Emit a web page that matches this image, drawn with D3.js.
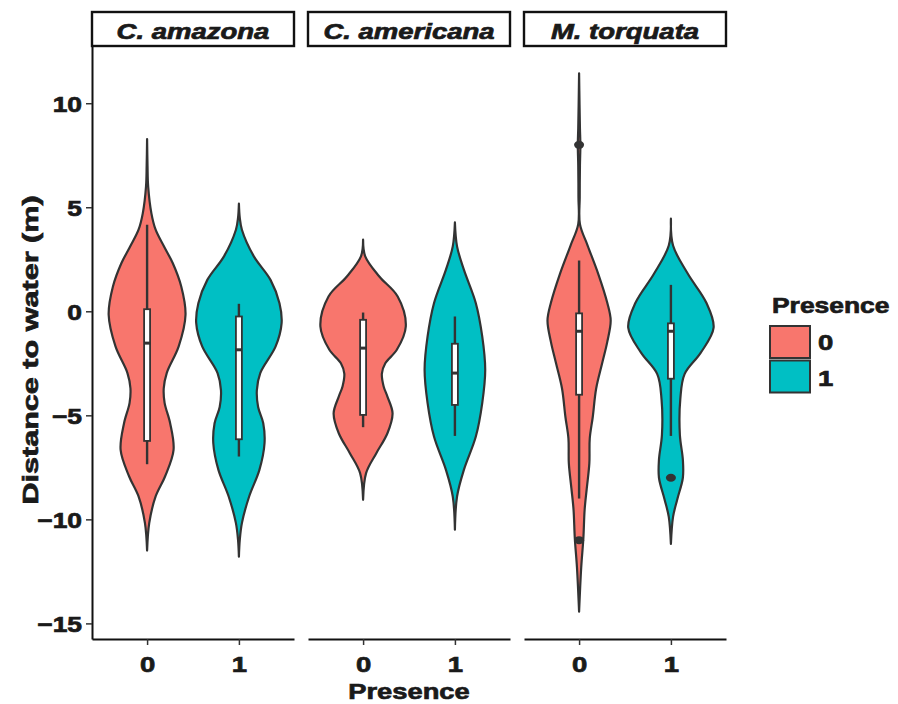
<!DOCTYPE html>
<html>
<head>
<meta charset="utf-8">
<script src="https://cdn.jsdelivr.net/npm/d3@7"></script>
<style>
  body { margin: 0; background: #fff; }
  text { font-family: "Liberation Sans", Arial, sans-serif; font-weight: bold; fill: #1a1a1a; stroke: #1a1a1a; stroke-width: 0.7px; }
</style>
</head>
<body>
<div id="chart"></div>
<script>
// facets and groups
var species = ["C. amazona", "C. americana", "M. torquata"];
var presence = ["0", "1"];

// violin outlines: [distance, relative density]
var amazona0 = [[8.28,0],[7.0,0.01],[6.0,0.025],[4.72,0.1],[3.92,0.2],[3.1,0.4],[2.32,0.6],[1.19,0.8],[-0.17,0.9],[-1.69,0.74],[-2.97,0.46],[-3.7,0.39],[-4.4,0.41],[-5.38,0.54],[-6.66,0.62],[-7.94,0.42],[-8.9,0.2],[-10.18,0.05],[-11.5,0]];
var amazona1 = [[5.17,0],[4.5,0.02],[3.92,0.07],[2.64,0.35],[1.51,0.74],[0.39,0.95],[-0.57,1.0],[-1.69,0.86],[-2.97,0.5],[-3.8,0.42],[-4.6,0.45],[-5.38,0.57],[-6.34,0.6],[-7.62,0.48],[-8.9,0.24],[-10.18,0.07],[-11.0,0.02],[-11.79,0]];
var americana0 = [[3.44,0],[2.64,0.05],[1.67,0.38],[0.71,0.81],[-0.73,1.0],[-1.85,0.79],[-2.5,0.52],[-3.0,0.44],[-3.6,0.48],[-4.1,0.57],[-4.9,0.69],[-5.86,0.57],[-6.82,0.31],[-7.78,0.07],[-9.06,0]];
var americana1 = [[4.27,0],[3.12,0.05],[2.0,0.21],[0.39,0.49],[-1.21,0.64],[-2.81,0.71],[-4.41,0.64],[-6.02,0.49],[-7.62,0.21],[-8.9,0.05],[-10.5,0]];
var torquata0 = [[11.44,0],[10,0.01],[8.8,0.02],[8,0.03],[7,0.02],[5.5,0.015],[4.19,0.02],[3.16,0.2],[1.79,0.45],[0.41,0.66],[-0.44,0.74],[-1.47,0.66],[-2.5,0.54],[-3.71,0.4],[-5.08,0.32],[-6.11,0.25],[-7.31,0.24],[-8.51,0.18],[-9.54,0.13],[-10.92,0.1],[-12.3,0.05],[-14.44,0]];
var torquata1 = [[4.45,0],[3.16,0.05],[1.79,0.4],[0.41,0.83],[-0.79,1.0],[-1.99,0.7],[-3.02,0.32],[-4.22,0.22],[-5.94,0.21],[-7.14,0.28],[-8.0,0.28],[-9.03,0.15],[-9.88,0.05],[-11.18,0]];

// boxplot stats: [lower whisker, q1, median, q3, upper whisker]
var amazonaBox = [[-7.35,-6.23,-1.53,0.1,4.16], [-6.98,-6.15,-1.85,-0.25,0.36]];
var americanaBox = [[-5.57,-4.98,-1.77,-0.41,-0.06], [-5.99,-4.5,-2.97,-1.56,-0.25]];
var torquataBox = [[-9.0,-4.01,-0.96,-0.1,2.44], [-5.99,-3.24,-0.96,-0.58,1.27]];

// outliers
var amazonaOut = [[], []];
var americanaOut = [[], []];
var torquataOut = [[8, -11], [-8]];

var violins = [[amazona0, amazona1], [americana0, americana1], [torquata0, torquata1]];
var boxes = [amazonaBox, americanaBox, torquataBox];
var outliers = [amazonaOut, americanaOut, torquataOut];

var colors = ["#F8766D", "#00BFC4"];
var ink = "#333333";

var width = 898, height = 704;
var panelTop = 46, panelBottom = 639, panelW = 202, panelGap = 14, left = 92;

var svg = d3.select("#chart").append("svg")
    .attr("width", width)
    .attr("height", height);

// stretch text horizontally, the figure's lettering is wide
function stretch(sel, k) {
  sel.each(function() {
    var l = this.getComputedTextLength();
    d3.select(this).attr("textLength", l * k).attr("lengthAdjust", "spacingAndGlyphs");
  });
}

var y = d3.scaleLinear()
    .domain([-15.75, 12.75])
    .range([panelBottom, panelTop]);

var yAxis = svg.append("g")
    .attr("transform", "translate(" + left + ",0)")
    .call(d3.axisLeft(y).ticks(6).tickSize(6).tickPadding(4).tickSizeOuter(0));
yAxis.select(".domain").attr("stroke", "#111").attr("stroke-width", 2);
yAxis.selectAll(".tick line").attr("stroke", "#333").attr("stroke-width", 1.5);
yAxis.selectAll(".tick text").style("font-size", "22px").attr("fill", "#1a1a1a").attr("dy", "0.36em");
stretch(yAxis.selectAll(".tick text"), 1.2);

species.forEach(function(sp, i) {
  var x0 = left + i * (panelW + panelGap);
  var x = d3.scalePoint().domain(presence).range([x0, x0 + panelW]).padding(0.6);
  var step = x.step();
  var w = d3.scaleLinear().domain([0, 1]).range([0, 0.465 * step]);

  // strip
  svg.append("rect")
      .attr("x", x0).attr("y", 12)
      .attr("width", panelW).attr("height", 34)
      .attr("fill", "#fff").attr("stroke", "#111").attr("stroke-width", 2.4);
  var st = svg.append("text")
      .attr("x", x0 + panelW / 2).attr("y", 38.5)
      .attr("text-anchor", "middle")
      .style("font-size", "22px").style("font-style", "italic")
      .text(sp);
  stretch(st, 1.25);

  // bottom axis
  var xAxis = svg.append("g")
      .attr("transform", "translate(0," + panelBottom + ")")
      .call(d3.axisBottom(x).tickSize(6).tickPadding(11).tickSizeOuter(0));
  xAxis.select(".domain").attr("stroke", "#111").attr("stroke-width", 2);
  xAxis.selectAll(".tick line").attr("stroke", "#333").attr("stroke-width", 1.5);
  xAxis.selectAll(".tick text").style("font-size", "22px").attr("fill", "#1a1a1a");
  stretch(xAxis.selectAll(".tick text"), 1.25);

  presence.forEach(function(p, j) {
    var cx = x(p);
    var area = d3.area()
        .y(function(d) { return y(d[0]); })
        .x0(function(d) { return cx - w(d[1]); })
        .x1(function(d) { return cx + w(d[1]); })
        .curve(d3.curveCatmullRom);

    svg.append("path")
        .datum(violins[i][j])
        .attr("d", area)
        .attr("fill", colors[j])
        .attr("stroke", ink)
        .attr("stroke-width", 2.2)
        .attr("stroke-linejoin", "round");

    var b = boxes[i][j];
    var bw = 0.065 * step;
    // whiskers
    svg.append("line")
        .attr("x1", cx).attr("x2", cx)
        .attr("y1", y(b[0])).attr("y2", y(b[4]))
        .attr("stroke", ink).attr("stroke-width", 2.4);
    // box
    svg.append("rect")
        .attr("x", cx - bw / 2).attr("width", bw)
        .attr("y", y(b[3])).attr("height", y(b[1]) - y(b[3]))
        .attr("fill", "#fff").attr("stroke", ink).attr("stroke-width", 1.8);
    // median
    svg.append("line")
        .attr("x1", cx - bw / 2).attr("x2", cx + bw / 2)
        .attr("y1", y(b[2])).attr("y2", y(b[2]))
        .attr("stroke", ink).attr("stroke-width", 3);

    svg.selectAll(null)
        .data(outliers[i][j])
        .enter().append("ellipse")
        .attr("cx", cx).attr("cy", function(d) { return y(d); })
        .attr("rx", 5).attr("ry", 4)
        .attr("fill", ink);
  });
});

// axis titles
var xt = svg.append("text")
    .attr("x", (left + left + 3 * panelW + 2 * panelGap) / 2).attr("y", 699)
    .attr("text-anchor", "middle")
    .style("font-size", "22px")
    .text("Presence");
stretch(xt, 1.24);

var yt = svg.append("text")
    .attr("transform", "translate(38,350) rotate(-90)")
    .attr("text-anchor", "middle")
    .style("font-size", "22px")
    .text("Distance to water (m)");
stretch(yt, 1.39);

// legend
var legend = svg.append("g");
var lt = legend.append("text")
    .attr("x", 772).attr("y", 313)
    .style("font-size", "22px")
    .text("Presence");
stretch(lt, 1.2);

presence.forEach(function(p, j) {
  legend.append("rect")
      .attr("x", 770).attr("y", 326 + j * 34.5)
      .attr("width", 40).attr("height", 32)
      .attr("fill", colors[j]).attr("stroke", ink).attr("stroke-width", 2);
  var t = legend.append("text")
      .attr("x", 818).attr("y", 350 + j * 36)
      .style("font-size", "22px")
      .text(p);
  stretch(t, 1.25);
});
</script>
</body>
</html>
